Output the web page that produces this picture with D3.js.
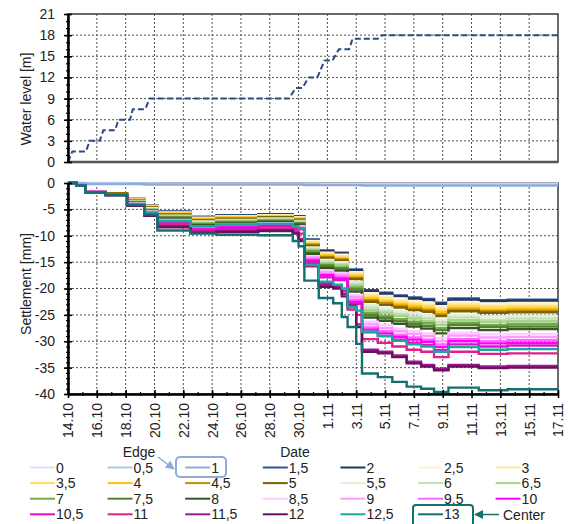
<!DOCTYPE html>
<html><head><meta charset="utf-8">
<script src="https://cdn.jsdelivr.net/npm/d3@7"></script>
<style>
body{margin:0;background:#fff}
text{font-family:"Liberation Sans",Arial,sans-serif;fill:#222}
</style>
</head><body>
<svg id="chart" width="568" height="524"></svg>
<script>
// Axis tick labels
const dateTicks = ["14.10","16.10","18.10","20.10","22.10","24.10","26.10","28.10","30.10","1.11","3.11","5.11","7.11","9.11","11.11","13.11","15.11","17.11"];
const waterTicks = [0,3,6,9,12,15,18,21];
const settleTicks = [-40,-35,-30,-25,-20,-15,-10,-5,0];

// Water level in the reservoir: days since 14.10 and level [m]
const waterDays  = [0,0.3,1.25,1.5,2.2,2.45,3.27,3.5,4.3,4.5,5.36,5.66,15.33,15.8,16.26,16.7,17.3,17.8,18.35,18.8,19.5,19.75,21.5,21.8,34];
const waterLevel = [0,1.5,1.5,3,3,4.5,4.5,6,6,7.5,7.5,9,9,10.5,10.5,12,12,14.4,14.4,16,16,17.5,17.5,18,18];

// Measuring positions (legend labels) and settlement readings [mm] at each reading day
const positions = ["0","0,5","1","1,5","2","2,5","3","3,5","4","4,5","5","5,5","6","6,5","7","7,5","8","8,5","9","9,5","10","10,5","11","11,5","12","12,5","13"];
const readingDays = [0,0.6,1.2,2.6,4.1,5.3,6.2,8.5,10.3,13.2,15.6,16.0,16.4,17.4,18.4,19.0,19.4,20.0,20.4,21.5,22.5,23.5,24.5,25.4,26.4,28.5,30.5,34];
const settlement = [
  /* 0   */ [0,0,0,0,-0.1,-0.1,-0.1,-0.1,-0.1,-0.1,-0.1,-0.1,-0.1,-0.1,-0.1,-0.1,-0.1,-0.1,-0.1,-0.1,-0.1,-0.1,-0.1,-0.1,-0.1,-0.1,-0.1,-0.1],
  /* 0,5 */ [0,0,-0.1,-0.1,-0.1,-0.1,-0.2,-0.2,-0.2,-0.2,-0.2,-0.2,-0.2,-0.3,-0.3,-0.3,-0.3,-0.3,-0.3,-0.3,-0.3,-0.3,-0.3,-0.3,-0.3,-0.3,-0.3,-0.3],
  /* 1   */ [0,-0.1,-0.2,-0.2,-0.2,-0.3,-0.3,-0.3,-0.3,-0.3,-0.3,-0.3,-0.4,-0.4,-0.4,-0.4,-0.4,-0.4,-0.5,-0.5,-0.5,-0.5,-0.5,-0.5,-0.5,-0.5,-0.5,-0.5],
  /* 1,5 */ [0,-0.4,-1.6,-2.0,-3.0,-4.2,-5.4,-6.4,-6.1,-5.9,-6.3,-6.3,-10.7,-12.8,-13.2,-13.2,-16.4,-16.4,-20.3,-20.8,-21.3,-21.7,-22.0,-22.7,-21.9,-22.2,-22.1,-22.1],
  /* 2   */ [0,-0.4,-1.6,-2.0,-3.0,-4.2,-5.5,-6.5,-6.2,-6.0,-6.4,-6.4,-10.8,-12.9,-13.3,-13.3,-16.6,-16.6,-20.5,-21.0,-21.5,-21.9,-22.2,-22.9,-22.1,-22.4,-22.3,-22.3],
  /* 2,5 */ [0,-0.4,-1.6,-2.0,-3.1,-4.3,-5.6,-6.6,-6.3,-6.1,-6.5,-6.5,-11.0,-13.2,-13.6,-13.6,-16.9,-16.9,-20.9,-21.4,-21.9,-22.4,-22.7,-23.4,-22.6,-22.9,-22.8,-22.8],
  /* 3   */ [0,-0.4,-1.6,-2.0,-3.2,-4.4,-5.7,-6.7,-6.4,-6.2,-6.6,-6.6,-11.2,-13.4,-13.9,-13.9,-17.2,-17.2,-21.3,-21.8,-22.4,-22.8,-23.1,-23.8,-23.0,-23.3,-23.2,-23.2],
  /* 3,5 */ [0,-0.4,-1.6,-2.0,-3.2,-4.5,-5.8,-6.8,-6.5,-6.3,-6.7,-6.7,-11.4,-13.6,-14.1,-14.1,-17.5,-17.5,-21.6,-22.2,-22.7,-23.1,-23.4,-24.2,-23.3,-23.6,-23.5,-23.5],
  /* 4   */ [0,-0.4,-1.6,-2.0,-3.2,-4.5,-5.8,-6.9,-6.6,-6.4,-6.8,-6.8,-11.6,-13.8,-14.3,-14.3,-17.7,-17.7,-21.9,-22.5,-23.0,-23.4,-23.8,-24.5,-23.7,-24.0,-23.9,-23.9],
  /* 4,5 */ [0,-0.4,-1.6,-2.0,-3.3,-4.6,-5.9,-7.0,-6.7,-6.5,-6.9,-6.9,-11.7,-14.0,-14.5,-14.5,-18.0,-18.0,-22.2,-22.8,-23.3,-23.8,-24.1,-24.9,-24.0,-24.3,-24.2,-24.2],
  /* 5   */ [0,-0.4,-1.6,-2.0,-3.3,-4.7,-6.0,-7.1,-6.8,-6.5,-7.0,-7.0,-11.9,-14.2,-14.7,-14.7,-18.2,-18.2,-22.5,-23.1,-23.6,-24.1,-24.4,-25.2,-24.3,-24.6,-24.5,-24.5],
  /* 5,5 */ [0,-0.4,-1.7,-2.1,-3.4,-4.8,-6.2,-7.3,-7.0,-6.7,-7.2,-7.2,-12.2,-14.6,-15.0,-15.0,-18.7,-18.7,-23.1,-23.7,-24.3,-24.7,-25.1,-25.9,-25.0,-25.3,-25.2,-25.2],
  /* 6   */ [0,-0.4,-1.7,-2.1,-3.5,-4.9,-6.3,-7.5,-7.1,-6.9,-7.3,-7.3,-12.5,-14.9,-15.4,-15.4,-19.1,-19.1,-23.6,-24.2,-24.8,-25.3,-25.6,-26.4,-25.5,-25.9,-25.7,-25.7],
  /* 6,5 */ [0,-0.4,-1.7,-2.1,-3.6,-5.0,-6.4,-7.6,-7.2,-7.0,-7.5,-7.5,-12.7,-15.2,-15.6,-15.6,-19.4,-19.4,-24.1,-24.6,-25.2,-25.7,-26.1,-26.9,-26.0,-26.3,-26.2,-26.2],
  /* 7   */ [0,-0.4,-1.7,-2.1,-3.6,-5.1,-6.5,-7.7,-7.4,-7.1,-7.6,-7.6,-12.9,-15.5,-16.0,-16.0,-19.8,-19.8,-24.6,-25.2,-25.8,-26.3,-26.6,-27.5,-26.5,-26.9,-26.7,-26.7],
  /* 7,5 */ [0,-0.4,-1.7,-2.1,-3.7,-5.2,-6.6,-7.9,-7.5,-7.3,-7.7,-7.7,-13.2,-15.7,-16.2,-16.2,-20.2,-20.2,-25.0,-25.6,-26.2,-26.7,-27.1,-27.9,-26.9,-27.3,-27.2,-27.2],
  /* 8   */ [0,-0.4,-1.7,-2.1,-3.8,-5.3,-6.8,-8.0,-7.7,-7.4,-7.9,-7.9,-13.4,-16.1,-16.6,-16.6,-20.6,-20.6,-25.5,-26.1,-26.7,-27.2,-27.6,-28.5,-27.5,-27.9,-27.7,-27.7],
  /* 8,5 */ [0,-0.4,-1.7,-2.1,-3.9,-5.4,-7.0,-8.3,-7.9,-7.6,-8.2,-8.2,-13.9,-16.6,-17.1,-17.1,-21.2,-21.2,-26.3,-26.9,-27.6,-28.1,-28.5,-29.4,-28.4,-28.7,-28.6,-28.6],
  /* 9   */ [0,-0.4,-1.7,-2.1,-4.0,-5.5,-7.1,-8.4,-8.1,-7.8,-8.3,-8.3,-14.1,-16.9,-17.4,-17.4,-21.6,-21.6,-26.8,-27.5,-28.1,-28.6,-29.0,-30.0,-28.9,-29.3,-29.2,-29.2],
  /* 9,5 */ [0,-0.4,-1.7,-2.1,-4.0,-5.7,-7.3,-8.6,-8.2,-8.0,-8.5,-8.5,-14.4,-17.3,-17.8,-17.8,-22.1,-22.1,-27.4,-28.1,-28.8,-29.3,-29.7,-30.6,-29.6,-30.0,-29.8,-29.8],
  /* 10  */ [0,-0.4,-1.7,-2.1,-4.1,-5.8,-7.4,-8.8,-8.4,-8.1,-8.6,-8.6,-14.7,-17.5,-18.1,-18.1,-22.5,-22.5,-27.8,-28.5,-29.2,-29.7,-30.1,-31.1,-30.0,-30.4,-30.3,-30.3],
  /* 10,5*/ [0,-0.5,-1.8,-2.3,-4.2,-5.9,-7.5,-8.9,-8.5,-8.2,-8.8,-8.8,-14.9,-17.9,-18.4,-18.4,-22.9,-22.9,-28.3,-29.0,-29.7,-30.3,-30.7,-31.7,-30.6,-31.0,-30.8,-30.8],
  /* 11  */ [0,-0.5,-1.8,-2.3,-4.2,-6.0,-7.8,-9.2,-8.9,-8.6,-9.2,-9.6,-15.8,-19.0,-19.6,-20.5,-24.0,-25.0,-29.6,-30.3,-31.0,-31.6,-32.0,-33.0,-32.0,-32.4,-32.3,-32.3],
  /* 11,5*/ [0,-0.5,-1.8,-2.3,-4.3,-6.1,-8.2,-9.3,-9.1,-8.9,-9.4,-10.6,-15.3,-19.3,-19.7,-21.0,-23.1,-26.8,-31.6,-32.0,-32.7,-33.9,-34.5,-35.2,-34.5,-34.8,-34.7,-34.7],
  /* 12  */ [0,-0.5,-1.8,-2.3,-4.3,-6.2,-8.4,-9.5,-9.3,-9.1,-9.6,-11.0,-15.6,-19.7,-20.0,-21.5,-23.5,-27.3,-32.0,-32.3,-33.0,-34.2,-34.8,-35.5,-34.8,-35.1,-35.0,-35.0],
  /* 12,5*/ [0,-0.5,-1.8,-2.3,-4.0,-5.6,-7.2,-8.2,-7.9,-7.7,-8.2,-8.6,-15.5,-18.7,-19.3,-20.0,-23.5,-24.2,-28.2,-29.0,-29.9,-30.6,-31.0,-32.0,-31.1,-31.6,-31.5,-31.5],
  /* 13  */ [0,-0.5,-1.8,-2.3,-4.2,-6.0,-9.0,-9.6,-9.8,-9.9,-11.0,-12.0,-18.5,-21.8,-22.8,-25.4,-27.3,-30.5,-36.1,-36.8,-37.7,-38.6,-39.0,-39.6,-38.8,-39.3,-39.1,-39.1]
];
const seriesColors = ["#dae3f3","#b4c7e7","#8faadc","#2f5597","#203864","#fff2cc","#ffe699","#ffd966","#ffc000","#bf9000","#7f6000",
  "#e2f0d9","#c5e0b4","#a9d18e","#70ad47","#548235","#385723","#ffccff","#ff99ff","#ff66ff","#ff00ff","#e010c8","#e0208c",
  "#a0188f","#6b1060","#1aa7a0","#137070"];

const svg = d3.select("#chart");
const startDate = new Date(2019, 9, 14);
const endDate = new Date(2019, 10, 17);
const atDay = d => d3.timeMinute.offset(startDate, Math.round(d * 1440));
const tickDates = dateTicks.map(s => d3.timeParse("%d.%m.%Y")(s + ".2019"));

const L = 68, R = 558;
const x = d3.scaleTime().domain([startDate, endDate]).range([L, R]);
const yW = d3.scaleLinear().domain([0, 21]).range([162, 14]);
const yS = d3.scaleLinear().domain([-40, 0]).range([394, 183]);

const gridColor = "#505050";
function grid(y, yTicks) {
  const g = svg.append("g").attr("stroke", gridColor).attr("stroke-width", 1).attr("stroke-dasharray", "2,2");
  tickDates.slice(1, -1).forEach(d => g.append("line").attr("x1", x(d)).attr("x2", x(d)).attr("y1", y.range()[1]).attr("y2", y.range()[0]));
  yTicks.slice(1, -1).forEach(v => g.append("line").attr("x1", L).attr("x2", R).attr("y1", y(v)).attr("y2", y(v)));
}
grid(yW, waterTicks);
grid(yS, settleTicks);

// frames
[yW, yS].forEach(y => {
  svg.append("rect").attr("x", L).attr("y", y.range()[1]).attr("width", R - L).attr("height", y.range()[0] - y.range()[1])
    .attr("fill", "none").attr("stroke", "#3a3a3a").attr("stroke-width", 1.5);
});
svg.append("line").attr("x1", L).attr("x2", R).attr("y1", yW(0)).attr("y2", yW(0)).attr("stroke", "#555").attr("stroke-width", 2.5);
svg.append("line").attr("x1", L).attr("x2", R).attr("y1", yS(0)).attr("y2", yS(0)).attr("stroke", "#111").attr("stroke-width", 2);

// water level line
const waterLine = d3.line().x((d, i) => x(atDay(waterDays[i]))).y(d => yW(d));
svg.append("path").attr("d", waterLine(waterLevel)).attr("fill", "none")
  .attr("stroke", "#2c4a86").attr("stroke-width", 2).attr("stroke-dasharray", "6,3");

// settlement lines
const settleLine = d3.line().curve(d3.curveStepAfter).x((d, i) => x(atDay(readingDays[i]))).y(d => yS(d));
const lines = svg.append("g").attr("fill", "none").attr("stroke-width", 2.4);
settlement.forEach((vals, k) => {
  lines.append("path").attr("d", settleLine(vals)).attr("stroke", seriesColors[k]);
});

// axes
function styleLeft(g, major) {
  g.select(".domain").attr("stroke", "#000").attr("stroke-width", 2);
  g.selectAll(".tick line").attr("stroke", "#000").attr("stroke-width", major ? 1.6 : 1.2).attr("x1", major ? 4 : 2);
  g.selectAll(".tick text").attr("font-size", 14).attr("fill", "#222");
}
function leftAxis(y, ticks, step) {
  const minor = d3.range(y.domain()[0], y.domain()[1] + 0.001, step);
  svg.append("g").attr("transform", `translate(${L},0)`)
    .call(d3.axisLeft(y).tickValues(minor).tickSize(2).tickSizeOuter(0).tickFormat(""))
    .call(g => styleLeft(g, false));
  svg.append("g").attr("transform", `translate(${L},0)`)
    .call(d3.axisLeft(y).tickValues(ticks).tickSize(4).tickSizeOuter(0).tickPadding(9).tickFormat(d => String(d)))
    .call(g => styleLeft(g, true));
}
leftAxis(yW, waterTicks, 1);
leftAxis(yS, settleTicks, 1);

// date axis
const minorDays = d3.timeDay.range(startDate, d3.timeDay.offset(endDate, 1));
svg.append("g").attr("transform", `translate(0,${yS(-40)})`)
  .call(d3.axisBottom(x).tickValues(minorDays).tickSize(2).tickSizeOuter(0).tickFormat(""))
  .call(g => { g.select(".domain").attr("stroke", "#000").attr("stroke-width", 2);
               g.selectAll(".tick line").attr("stroke", "#000").attr("stroke-width", 1.2).attr("y1", -2); });
svg.append("g").attr("transform", `translate(0,${yS(-40)})`)
  .call(d3.axisBottom(x).tickValues(tickDates).tickSize(4).tickSizeOuter(0).tickFormat((d, i) => dateTicks[i]))
  .call(g => {
    g.select(".domain").attr("stroke", "#000").attr("stroke-width", 2);
    g.selectAll(".tick line").attr("stroke", "#000").attr("stroke-width", 1.6).attr("y1", -4);
    g.selectAll(".tick text").attr("font-size", 14).attr("fill", "#222")
      .attr("transform", "rotate(-90)").attr("text-anchor", "end")
      .attr("x", -9).attr("y", 0).attr("dy", "0.35em");
  });

// axis titles
svg.append("text").attr("transform", "translate(31,99) rotate(-90)").attr("text-anchor", "middle")
  .attr("font-size", 14).text("Water level [m]");
svg.append("text").attr("transform", "translate(31,284) rotate(-90)").attr("text-anchor", "middle")
  .attr("font-size", 14).text("Settlement [mm]");
svg.append("text").attr("x", 295).attr("y", 457).attr("text-anchor", "middle").attr("font-size", 14).text("Date");

// legend
const legend = svg.append("g");
positions.forEach((p, i) => {
  const col = i % 7, row = Math.floor(i / 7);
  const lx = 30 + col * 77.6, ly = 467.5 + row * 15.6;
  legend.append("line").attr("x1", lx).attr("x2", lx + 25).attr("y1", ly).attr("y2", ly)
    .attr("stroke", seriesColors[i]).attr("stroke-width", 2);
  legend.append("text").attr("x", lx + 26).attr("y", ly + 5).attr("font-size", 14).text(p);
});

// edge / center callouts
const defs = svg.append("defs");
function arrowHead(id, color) {
  defs.append("marker").attr("id", id).attr("viewBox", "0 0 10 10").attr("refX", 9).attr("refY", 5)
    .attr("markerWidth", 6).attr("markerHeight", 6).attr("orient", "auto")
    .append("path").attr("d", "M0,0L10,5L0,10Z").attr("fill", color);
}
arrowHead("edgeArrow", "#8faadc");
arrowHead("centerArrow", "#137070");
svg.append("text").attr("x", 139).attr("y", 457).attr("text-anchor", "middle").attr("font-size", 14).text("Edge");
svg.append("rect").attr("x", 176).attr("y", 457).attr("width", 50).attr("height", 20).attr("rx", 4)
  .attr("fill", "none").attr("stroke", "#8faadc").attr("stroke-width", 2);
svg.append("line").attr("x1", 158).attr("y1", 457).attr("x2", 174).attr("y2", 469)
  .attr("stroke", "#8faadc").attr("stroke-width", 1.5).attr("marker-end", "url(#edgeArrow)");
svg.append("rect").attr("x", 413).attr("y", 505).attr("width", 60).attr("height", 22).attr("rx", 3)
  .attr("fill", "none").attr("stroke", "#137070").attr("stroke-width", 2);
svg.append("line").attr("x1", 499).attr("y1", 514.5).attr("x2", 475).attr("y2", 514.5)
  .attr("stroke", "#137070").attr("stroke-width", 1.5).attr("marker-end", "url(#centerArrow)");
svg.append("text").attr("x", 503).attr("y", 519.5).attr("font-size", 14).text("Center");
</script>
</body></html>
